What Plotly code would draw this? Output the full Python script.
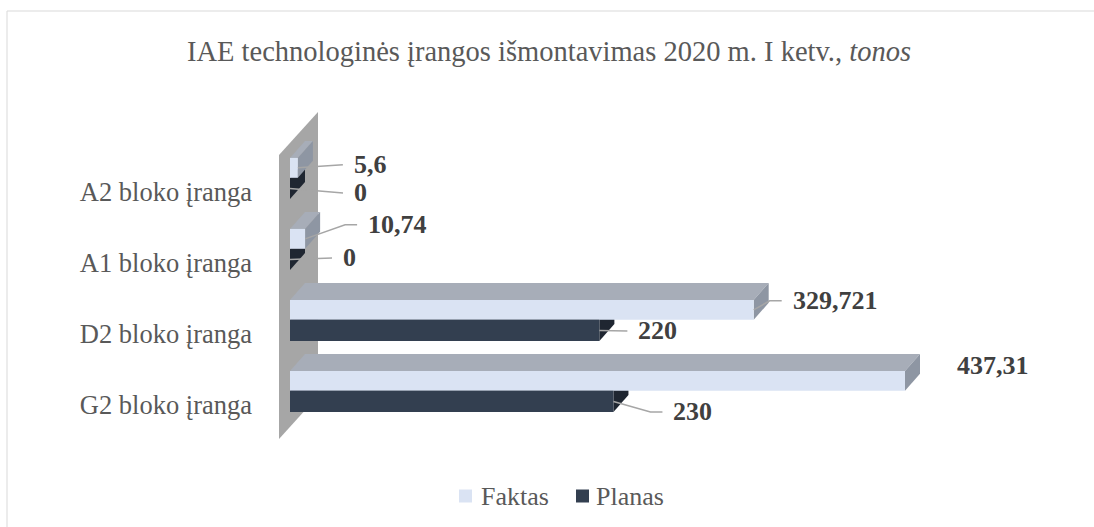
import plotly.graph_objects as go

# ---------------- data ----------------
categories = ["G2 bloko įranga", "D2 bloko įranga", "A1 bloko įranga", "A2 bloko įranga"]
faktas = [437.31, 329.721, 10.74, 5.6]
planas = [230, 220, 0, 0]
series_names = ["Faktas", "Planas"]
title_text = "IAE technologinės įrangos išmontavimas 2020 m. I ketv., <i>tonos</i>"

# ---------------- layout constants ----------------
W, H = 1094, 527
ML, MR, MT, MB = 258, 60, 100, 60
PX0 = 290.0            # pixel where x = 0
KX = 615.0 / 437.31    # pixels per unit on x
PY0 = 405.0            # pixel of first category
KY = 71.0              # pixels per category step

def x_of(px):
    return (px - PX0) / KX

def y_of(py):
    return (PY0 - py) / KY

def dxu(d):
    return d / KX

def dyu(d):
    return d / KY

x_range = [x_of(ML), x_of(W - MR)]
y_range = [y_of(H - MB), y_of(MT)]
plot_w = W - ML - MR
plot_h = H - MT - MB

def xp(px):  # pixel -> paper x
    return (px - ML) / plot_w

def yp(py):  # pixel -> paper y
    return (H - MB - py) / plot_h

# bar geometry (category units)
F_OFF, F_W = 0.20, 0.28
P_OFF, P_W = -0.10, 0.30
DX, DY = dxu(15), dyu(17)   # 3-D depth

C_F_FRONT, C_F_TOP, C_F_END = "#DAE3F3", "#A7ADB8", "#8E96A3"
C_P_FRONT, C_P_TOP, C_P_END = "#333F50", "#262F3C", "#1F2631"
C_WALL = "#A6A6A6"
C_TEXT = "#595959"
C_LABEL = "#404040"
C_LEADER = "#A6A6A6"
FONT = "Liberation Serif"

# label offsets (px, relative to bar end / bar centre) and leader style
f_label_off = [(50, -15, None), (37, -9, "elbow"), (61, -14, "elbow"), (54, -3, "line")]
p_label_off = [(58, 10.5, "elbow"), (37, 0.5, "line"), (51, -1.5, "line"), (62, 4.5, "line")]

# legend placement (px): square left edge, text left edge
legend_items = [(459, 480), (576, 595)]
LEGEND_Y = 496
LEGEND_SQ = 13

pos = list(range(len(categories)))

def fmt(v):
    if float(v).is_integer():
        return str(int(v))
    return str(v).replace(".", ",")

def poly(points, color, layer="below"):
    path = "M " + " L ".join(f"{px},{py}" for px, py in points) + " Z"
    return dict(type="path", path=path, xref="x", yref="y", fillcolor=color,
                line=dict(width=0), layer=layer)

shapes = []
# side wall
shapes.append(poly([(x_of(279), y_of(155)), (x_of(318), y_of(112)),
                    (x_of(318), y_of(396)), (x_of(279), y_of(439))], C_WALL))

# Planas 3-D faces (behind)
for p, v in zip(pos, planas):
    b, t = p + P_OFF, p + P_OFF + P_W
    shapes.append(poly([(0, t), (v, t), (v + DX, t + DY), (DX, t + DY)], C_P_TOP))
    shapes.append(poly([(v, b), (v, t), (v + DX, t + DY), (v + DX, b + DY)], C_P_END))
# Faktas 3-D faces
for p, v in zip(pos, faktas):
    b, t = p + F_OFF, p + F_OFF + F_W
    shapes.append(poly([(0, t), (v, t), (v + DX, t + DY), (DX, t + DY)], C_F_TOP))
    shapes.append(poly([(v, b), (v, t), (v + DX, t + DY), (v + DX, b + DY)], C_F_END))

annotations = []

def add_labels(values, off, width, offs):
    for p, v, (ldx, ldy, kind) in zip(pos, values, offs):
        yc = p + off + width / 2
        ly = yc - dyu(ldy)
        annotations.append(dict(x=v, y=yc, xref="x", yref="y", text=f"<b>{fmt(v)}</b>",
                                showarrow=False, xanchor="left", yanchor="middle",
                                xshift=ldx, yshift=-ldy,
                                font=dict(family=FONT, size=26, color=C_LABEL)))
        if kind is None:
            continue
        end_x = v + dxu(ldx - 9)
        if kind == "elbow":
            elbow_x = v + dxu(ldx - 21)
            path = f"M {v},{yc} L {elbow_x},{ly} L {end_x},{ly}"
        else:
            path = f"M {v},{yc} L {end_x},{ly}"
        shapes.append(dict(type="path", path=path, xref="x", yref="y",
                           line=dict(color=C_LEADER, width=1.5), layer="above"))

add_labels(faktas, F_OFF, F_W, f_label_off)
add_labels(planas, P_OFF, P_W, p_label_off)

# legend (drawn manually so that the serif font and spacing match)
for (sq_x, tx_x), name, col in zip(legend_items, series_names, [C_F_FRONT, C_P_FRONT]):
    shapes.append(dict(type="rect", xref="paper", yref="paper",
                       x0=xp(sq_x), x1=xp(sq_x + LEGEND_SQ),
                       y0=yp(LEGEND_Y + LEGEND_SQ / 2), y1=yp(LEGEND_Y - LEGEND_SQ / 2),
                       fillcolor=col, line=dict(width=0), layer="above"))
    annotations.append(dict(x=xp(tx_x), y=yp(LEGEND_Y), xref="paper", yref="paper",
                            text=name, showarrow=False, xanchor="left", yanchor="middle",
                            borderpad=0,
                            font=dict(family=FONT, size=26, color=C_TEXT)))

# chart border
shapes.append(dict(type="rect", xref="paper", yref="paper",
                   x0=xp(7), x1=xp(W + 5), y0=yp(H + 5), y1=yp(11),
                   line=dict(color="#D9D9D9", width=1), fillcolor="rgba(0,0,0,0)",
                   layer="below"))

fig = go.Figure()
fig.add_trace(go.Bar(name=series_names[0], y=pos, x=faktas, orientation="h",
                     offset=F_OFF, width=F_W, marker=dict(color=C_F_FRONT, line=dict(width=0)),
                     hoverinfo="x+name", showlegend=False))
fig.add_trace(go.Bar(name=series_names[1], y=pos, x=planas, orientation="h",
                     offset=P_OFF, width=P_W, marker=dict(color=C_P_FRONT, line=dict(width=0)),
                     hoverinfo="x+name", showlegend=False))

fig.update_layout(
    width=W, height=H,
    font=dict(family=FONT, size=26, color=C_TEXT),
    margin=dict(l=ML, r=MR, t=MT, b=MB, autoexpand=False),
    paper_bgcolor="white", plot_bgcolor="white",
    barmode="overlay",
    showlegend=False,
    title=dict(text=title_text, x=549 / W, xref="container", xanchor="center",
               y=1 - 51 / H, yref="container", yanchor="middle",
               font=dict(family=FONT, size=28.5, color=C_TEXT)),
    xaxis=dict(range=x_range, visible=False, fixedrange=True),
    yaxis=dict(range=y_range, tickmode="array", tickvals=pos, ticktext=categories,
               showgrid=False, zeroline=False, showline=False, ticks="",
               ticklabelstandoff=5,
               tickfont=dict(family=FONT, size=26.5, color=C_TEXT), fixedrange=True),
    shapes=shapes,
    annotations=annotations,
)

fig.write_html("out.html", config={"displayModeBar": False},
               post_script="document.body.style.margin='0px';document.body.style.overflow='hidden';")
